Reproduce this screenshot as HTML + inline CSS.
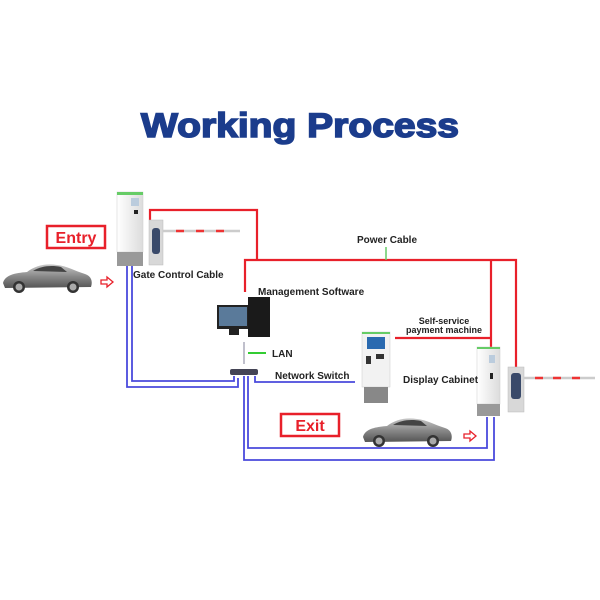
<!DOCTYPE html>
<html><head><style>
body{margin:0;background:#fff}
svg{display:block}
text{font-family:"Liberation Sans",sans-serif;font-weight:bold;fill:#222}
</style></head><body>
<svg width="600" height="600" viewBox="0 0 600 600">
<defs>
<linearGradient id="car" x1="0" y1="0" x2="0" y2="1"><stop offset="0" stop-color="#c8c8c8"/><stop offset="0.5" stop-color="#8a8a8a"/><stop offset="1" stop-color="#555"/></linearGradient>
<linearGradient id="cab" x1="0" y1="0" x2="1" y2="0"><stop offset="0" stop-color="#fff"/><stop offset="1" stop-color="#dcdcdc"/></linearGradient>
<g id="carg">
<path d="M2,22 C4,14 14,12 26,11 C34,5 44,2 56,4 C66,5 74,10 84,13 C90,15 92,20 90,26 L4,27 Z" fill="url(#car)"/>
<path d="M32,10 C40,5 50,4 60,6 L66,11 Z" fill="#444"/>
<circle cx="18" cy="26" r="6" fill="#333"/><circle cx="18" cy="26" r="3.5" fill="#aaa"/>
<circle cx="72" cy="26" r="6" fill="#333"/><circle cx="72" cy="26" r="3.5" fill="#aaa"/>
</g>
</defs>
<text x="141" y="137" font-size="34" textLength="318" lengthAdjust="spacingAndGlyphs" stroke="#1b3c8c" stroke-width="1.6" style="fill:#1b3c8c">Working Process</text>

<g stroke="#e8202a" stroke-width="2.2" fill="none">
<polyline points="150,220 150,210 257,210 257,260"/>
<polyline points="245,292 245,260 516,260 516,368"/>
<polyline points="491,260 491,352"/>
<polyline points="395,338 491,338"/>
</g>
<line x1="386" y1="247" x2="386" y2="260" stroke="#6c6" stroke-width="1.5"/>
<g stroke="#4a4adc" stroke-width="1.8" fill="none">
<polyline points="127,265 127,387 238,387 238,378"/>
<polyline points="132,265 132,381 234,381 234,376"/>
<polyline points="255,376 255,382 355,382"/>
<polyline points="244,376 244,460 494,460 494,417"/>
<polyline points="248,376 248,448 487,448 487,417"/>
</g>
<line x1="244" y1="342" x2="244" y2="364" stroke="#aab" stroke-width="1.5"/>
<line x1="248" y1="353" x2="266" y2="353" stroke="#3c3" stroke-width="2"/>
<rect x="230" y="369" width="28" height="6" rx="2" fill="#445"/>
<rect x="47" y="226" width="58" height="22" fill="#fff" stroke="#e8202a" stroke-width="2.5"/>
<text x="76" y="243" text-anchor="middle" font-size="16" style="fill:#e8202a">Entry</text>
<rect x="281" y="414" width="58" height="22" fill="#fff" stroke="#e8202a" stroke-width="2.5"/>
<text x="310" y="431" text-anchor="middle" font-size="16" style="fill:#e8202a">Exit</text>
<rect x="117" y="192" width="26" height="60" fill="url(#cab)" stroke="#ccc" stroke-width="0.5"/>
<rect x="117" y="192" width="26" height="3" fill="#6c6"/>
<rect x="117" y="252" width="26" height="14" fill="#999"/>
<rect x="131" y="198" width="8" height="8" fill="#bcd"/>
<rect x="134" y="210" width="4" height="4" fill="#222"/>
<rect x="149" y="220" width="14" height="45" fill="#d8d8d8" stroke="#bbb" stroke-width="0.5"/>
<rect x="152" y="228" width="8" height="26" rx="3" fill="#3a4a6a"/>
<line x1="163" y1="231" x2="240" y2="231" stroke="#ccc" stroke-width="2.5"/>
<g stroke="#e33" stroke-width="2.5"><line x1="176" y1="231" x2="184" y2="231"/><line x1="196" y1="231" x2="204" y2="231"/><line x1="216" y1="231" x2="224" y2="231"/></g>
<use href="#carg" x="1" y="261"/>
<use href="#carg" x="361" y="415"/>
<path d="M101,280 h6 v-3 l6,5 l-6,5 v-3 h-6 z" fill="#fff" stroke="#e8202a" stroke-width="1.3"/>
<path d="M464,434 h6 v-3 l6,5 l-6,5 v-3 h-6 z" fill="#fff" stroke="#e8202a" stroke-width="1.3"/>
<rect x="217" y="305" width="32" height="24" fill="#222"/>
<rect x="219" y="307" width="28" height="19" fill="#5a7a9a"/>
<rect x="229" y="329" width="10" height="6" fill="#222"/>
<rect x="248" y="297" width="22" height="40" fill="#1a1a1a"/>
<rect x="362" y="332" width="28" height="55" fill="#f2f2f2" stroke="#ccc" stroke-width="0.5"/>
<rect x="362" y="332" width="28" height="2" fill="#6c6"/>
<rect x="367" y="337" width="18" height="12" fill="#2a6ab0"/>
<rect x="366" y="356" width="5" height="8" fill="#333"/>
<rect x="376" y="354" width="8" height="5" fill="#333"/>
<rect x="364" y="387" width="24" height="16" fill="#888"/>
<rect x="477" y="347" width="23" height="57" fill="url(#cab)" stroke="#ccc" stroke-width="0.5"/>
<rect x="477" y="347" width="23" height="2" fill="#6c6"/>
<rect x="489" y="355" width="6" height="8" fill="#bcd"/>
<rect x="490" y="373" width="3" height="6" fill="#222"/>
<rect x="477" y="404" width="23" height="12" fill="#999"/>
<rect x="508" y="367" width="16" height="45" fill="#d8d8d8" stroke="#bbb" stroke-width="0.5"/>
<rect x="511" y="373" width="10" height="26" rx="3" fill="#3a4a6a"/>
<line x1="524" y1="378" x2="595" y2="378" stroke="#ccc" stroke-width="2.5"/>
<g stroke="#e33" stroke-width="2.5"><line x1="535" y1="378" x2="543" y2="378"/><line x1="553" y1="378" x2="561" y2="378"/><line x1="572" y1="378" x2="580" y2="378"/></g>
<text x="133" y="278" font-size="10">Gate Control Cable</text>
<text x="258" y="295" font-size="10">Management Software</text>
<text x="357" y="243" font-size="10">Power Cable</text>
<text x="272" y="357" font-size="10">LAN</text>
<text x="275" y="379" font-size="10">Network Switch</text>
<text x="403" y="383" font-size="10">Display Cabinet</text>
<text x="444" y="324" font-size="9" text-anchor="middle">Self-service</text>
<text x="444" y="333" font-size="9" text-anchor="middle">payment machine</text>
</svg>
</body></html>
